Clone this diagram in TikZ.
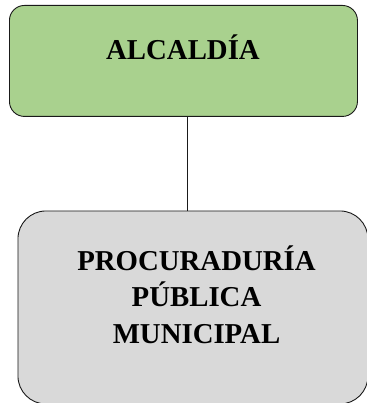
\documentclass[tikz,border=0pt]{standalone}
\usepackage{fontspec}
\setmainfont{Liberation Serif}
\definecolor{boxgreen}{HTML}{A9D18E}
\definecolor{boxgray}{HTML}{D9D9D9}
\definecolor{boxline}{HTML}{1A1A1A}
\begin{document}
\begin{tikzpicture}[x=1pt,y=1pt,
  orgbox/.style={draw=boxline, line width=0.9pt, inner sep=0pt, anchor=north west},
  boxtext/.style={font=\fontsize{28.8}{36.5}\selectfont\bfseries, align=center, inner sep=0pt, anchor=base}]
\useasboundingbox (0,0) rectangle (366,-403);
\node[orgbox, fill=boxgreen, rounded corners=15pt, minimum width=348pt, minimum height=111pt] (alc) at (9,-5) {};
\node[orgbox, fill=boxgray, rounded corners=28pt, minimum width=350pt, minimum height=193pt] (proc) at (17.5,-210.5) {};
\node[boxtext] (alct) at (183,-60) {ALCALDÍA};
\node[boxtext] (proct) at (196.5,-343) {PROCURADURÍA\\PÚBLICA\\MUNICIPAL};
\draw[draw=boxline, line width=0.9pt] (alc.south -| 187,0) -- (proc.north -| 187,0);
\end{tikzpicture}
\end{document}
